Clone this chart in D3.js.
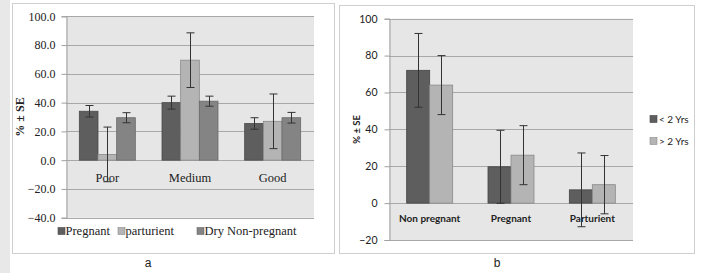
<!DOCTYPE html>
<html>
<head>
<meta charset="utf-8">
<script src="https://cdn.jsdelivr.net/npm/d3@7"></script>
<style>
  body { margin: 0; background: #fff; }
  svg { display: block; }
</style>
</head>
<body>
<svg id="fig" width="704" height="273"></svg>
<script>
// panel a: body condition
const condCats = ['Poor', 'Medium', 'Good'];
const condSeries = ['Pregnant', 'parturient', 'Dry Non-pregnant'];
const condValues = [
  [34, 40, 25.5],
  [4, 69.5, 27],
  [29.5, 41, 29.5]
];
const condErr = [
  [4, 4.5, 4],
  [19, 19, 19],
  [3.5, 3.5, 3.7]
];
const condTicks = [-40, -20, 0, 20, 40, 60, 80, 100];

// panel b: age groups
const stageCats = ['Non pregnant', 'Pregnant', 'Parturient'];
const ageSeries = ['< 2 Yrs', '> 2 Yrs'];
const ageValues = [
  [72, 19.7, 7.2],
  [64, 26, 10]
];
const ageErr = [
  [20, 19.8, 20],
  [16, 16, 15.8]
];
const ageTicks = [-20, 0, 20, 40, 60, 80, 100];

const SERIF = "'Liberation Serif', 'DejaVu Serif', serif";
const SANS = "Lato, 'Open Sans', sans-serif";

const svg = d3.select('#fig');

// left grey strip + panel frames
svg.append('rect').attr('x', 0).attr('y', 0).attr('width', 10).attr('height', 273).attr('fill', '#e8e8e8');
svg.append('rect').attr('x', 12.5).attr('y', 3.5).attr('width', 322).attr('height', 250)
  .attr('fill', '#fff').attr('stroke', '#cfcfcf');
svg.append('rect').attr('x', 339.5).attr('y', 5.5).attr('width', 355).attr('height', 248)
  .attr('fill', '#fff').attr('stroke', '#cfcfcf');

function drawPanel(o) {
  const g = svg.append('g').attr('font-family', o.font);
  const y = d3.scaleLinear().domain(o.domain).range([o.bottom, o.top]);
  const x = d3.scaleBand().domain(o.cats).range([o.left, o.right]);
  const x1 = d3.scaleBand().domain(o.series).range([0, o.groupW]);

  g.append('rect').attr('x', o.left).attr('y', o.top)
    .attr('width', o.right - o.left).attr('height', o.bottom - o.top).attr('fill', '#e6e6e6');

  // gridlines
  g.selectAll('.grid').data(o.ticks).join('line')
    .attr('x1', o.left).attr('x2', o.right)
    .attr('y1', d => Math.round(y(d)) + 0.5).attr('y2', d => Math.round(y(d)) + 0.5)
    .attr('stroke', '#a8a8a8').attr('stroke-width', 1);

  // y axis
  const ax = g.append('g').attr('transform', `translate(${o.left + 0.5},0)`)
    .call(d3.axisLeft(y).tickValues(o.ticks).tickSize(5).tickPadding(o.tickPad).tickFormat(o.fmt));
  ax.attr('font-family', o.font).attr('font-size', o.tickSize);
  ax.select('.domain').attr('stroke', '#a0a0a0');
  ax.selectAll('.tick line').attr('stroke', '#a0a0a0');
  ax.selectAll('.tick text').attr('fill', '#222');

  // y title
  g.append('text')
    .attr('transform', `translate(${o.titleX},${(o.top + o.bottom) / 2}) rotate(-90)`)
    .attr('text-anchor', 'middle').attr('fill', '#222')
    .attr('font-size', o.titleSize).attr('font-weight', 'bold')
    .text('% ± SE');

  // category labels inside plot
  g.selectAll('.cat').data(o.cats).join('text')
    .attr('x', d => x(d) + x.bandwidth() / 2).attr('y', o.catY)
    .attr('text-anchor', 'middle').attr('fill', '#222')
    .attr('font-size', o.catSize).attr('font-weight', o.catWeight)
    .text(d => d);

  // bars
  o.series.forEach((s, si) => {
    const off = (x.bandwidth() - o.groupW) / 2;
    g.selectAll(null).data(o.cats).join('rect')
      .attr('x', d => x(d) + off + x1(s))
      .attr('y', (d, i) => y(Math.max(0, o.values[si][i])))
      .attr('width', x1.bandwidth())
      .attr('height', (d, i) => Math.abs(y(o.values[si][i]) - y(0)))
      .attr('fill', o.colors[si]).attr('stroke', o.strokes[si]).attr('stroke-width', 0.8);
  });

  // error bars
  o.series.forEach((s, si) => {
    const off = (x.bandwidth() - o.groupW) / 2;
    const cx = d => Math.round(x(d) + off + x1(s) + x1.bandwidth() / 2) + 0.5;
    const eg = g.selectAll(null).data(o.cats).join('g').attr('stroke', '#333').attr('stroke-width', 1);
    eg.append('line')
      .attr('x1', cx).attr('x2', cx)
      .attr('y1', (d, i) => y(o.values[si][i] + o.err[si][i]))
      .attr('y2', (d, i) => y(o.values[si][i] - o.err[si][i]));
    [1, -1].forEach(sg => {
      eg.append('line')
        .attr('x1', d => cx(d) - o.cap).attr('x2', d => cx(d) + o.cap)
        .attr('y1', (d, i) => y(o.values[si][i] + sg * o.err[si][i]))
        .attr('y2', (d, i) => y(o.values[si][i] + sg * o.err[si][i]));
    });
  });

  // legend
  const lg = g.selectAll('.leg').data(o.series).join('g')
    .attr('transform', (d, i) => `translate(${o.legX[i]},${o.legY[i]})`);
  lg.append('rect').attr('x', 0).attr('y', -3.5).attr('width', 7).attr('height', 7)
    .attr('fill', (d, i) => o.colors[i]).attr('stroke', (d, i) => o.strokes[i]).attr('stroke-width', 0.6);
  lg.append('text').attr('x', o.legGap).attr('y', 0).attr('dy', '0.35em').attr('fill', '#222')
    .attr('font-size', o.legSize).text(d => d);

  // panel letter
  svg.append('text').attr('x', o.letterX).attr('y', 267).attr('text-anchor', 'middle')
    .attr('fill', '#222').attr('font-family', "'Liberation Sans', Arial, sans-serif").attr('font-size', '12px')
    .text(o.letter);
}

drawPanel({
  cats: condCats, series: condSeries, values: condValues, err: condErr, ticks: condTicks,
  domain: [-40, 100], left: 66, right: 314, top: 16.3, bottom: 217.7, groupW: 56,
  colors: ['#5e5e5e', '#b4b4b4', '#848484'], strokes: ['#4a4a4a', '#8a8a8a', '#6a6a6a'],
  font: SERIF, tickSize: '12px', tickPad: 6,
  fmt: d3.format('.1f'), titleX: 24, titleSize: '12px',
  catY: 182, catSize: '12.5px', catWeight: 'normal', cap: 4,
  legX: [58, 118, 197], legY: [231, 231, 231], legGap: 7.5, legSize: '12.5px',
  letter: 'a', letterX: 148
});

drawPanel({
  cats: stageCats, series: ageSeries, values: ageValues, err: ageErr, ticks: ageTicks,
  domain: [-20, 100], left: 389, right: 633, top: 18.7, bottom: 240, groupW: 46,
  colors: ['#5e5e5e', '#b4b4b4'], strokes: ['#444', '#8a8a8a'],
  font: SANS, tickSize: '10.5px', tickPad: 7,
  fmt: d3.format('d'), titleX: 360, titleSize: '9.5px',
  catY: 222, catSize: '10px', catWeight: 'bold', cap: 4,
  legX: [650, 650], legY: [119, 141], legGap: 9, legSize: '10px',
  letter: 'b', letterX: 497
});
</script>
</body>
</html>
